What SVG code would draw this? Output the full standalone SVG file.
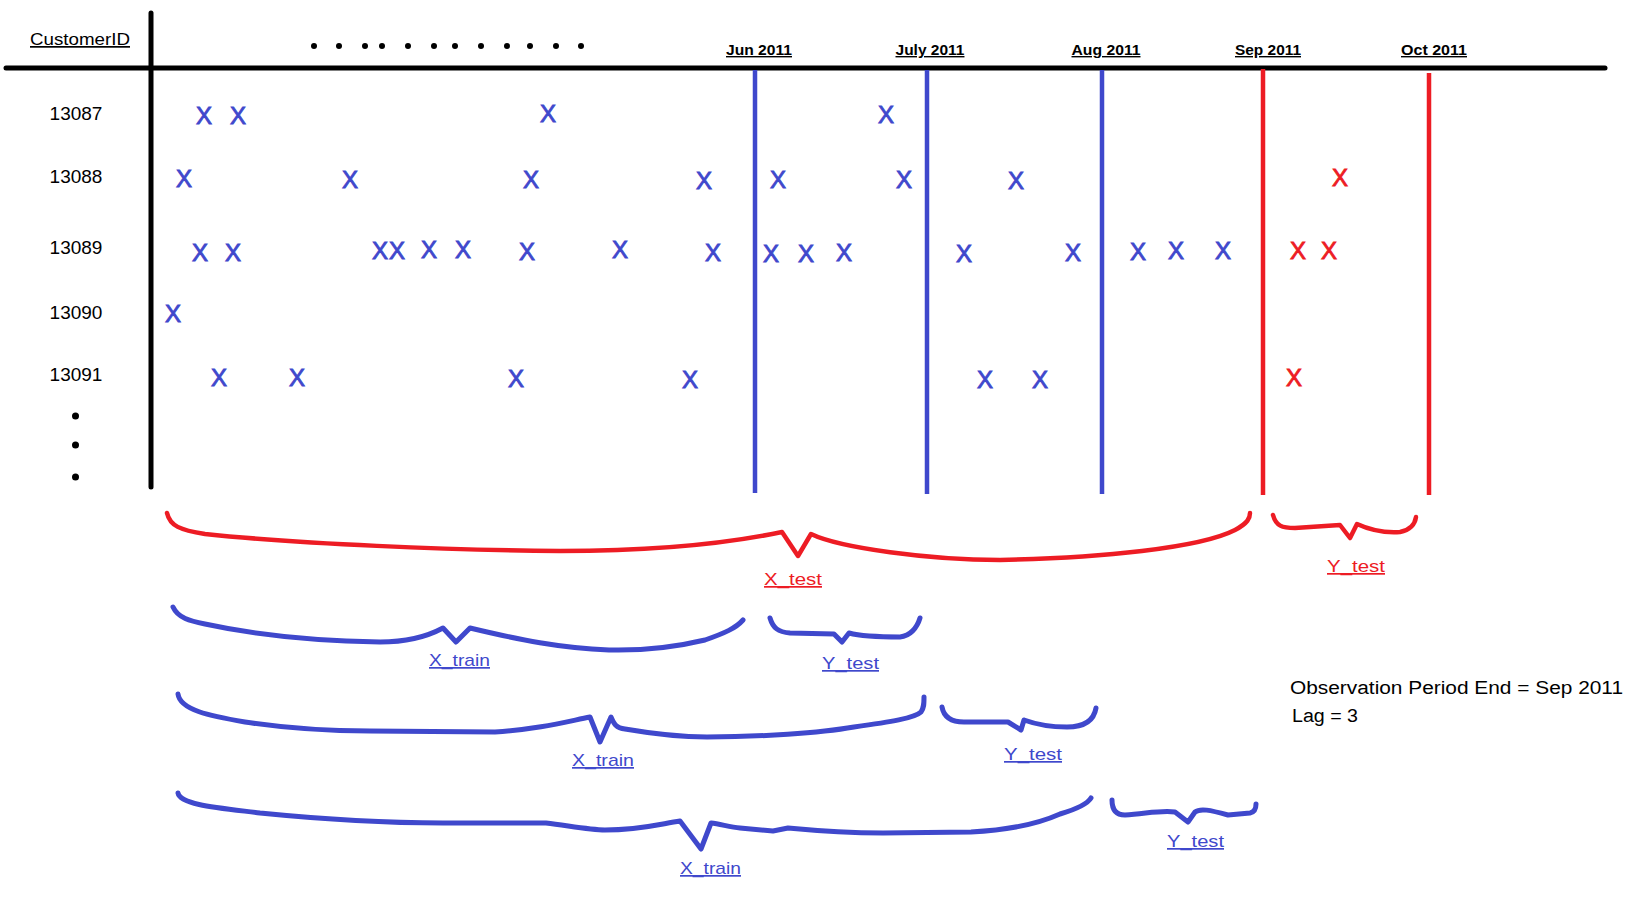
<svg xmlns="http://www.w3.org/2000/svg" width="1642" height="903" viewBox="0 0 1642 903">
<style>
text{font-family:"Liberation Sans",Arial,sans-serif}
.hdr{font-size:14px;font-weight:bold;fill:#000;text-decoration:underline;text-anchor:middle}
.rid{font-size:19px;fill:#000;text-anchor:middle}
.xb{font-size:24px;fill:#3f48cc;stroke:#3f48cc;stroke-width:0.9;text-anchor:middle}
.xr{font-size:24px;fill:#ed1c24;stroke:#ed1c24;stroke-width:0.9;text-anchor:middle}
.blk{stroke:#000;stroke-width:5;stroke-linecap:round;fill:none}
.vb{stroke:#3f48cc;stroke-width:4.5;fill:none}
.vr{stroke:#ed1c24;stroke-width:4.5;fill:none}
.bb{stroke:#3f48cc;stroke-width:5;fill:none;stroke-linecap:round;stroke-linejoin:round}
.br{stroke:#ed1c24;stroke-width:4.5;fill:none;stroke-linecap:round;stroke-linejoin:round}
.lb{font-size:17px;fill:#3f48cc;text-decoration:underline}
.lr{font-size:17px;fill:#ed1c24;text-decoration:underline}
.note{font-size:18px;fill:#000}
</style>
<rect width="1642" height="903" fill="#fff"/>
<g id="axes">
<line class="blk" x1="6" y1="68" x2="1605" y2="68"/>
<line class="blk" x1="151" y1="13" x2="151" y2="487"/>
<text id="customerid" x="30" y="45" font-size="17" textLength="100" lengthAdjust="spacingAndGlyphs" text-decoration="underline">CustomerID</text>
<g id="top-dots" fill="#000">
<circle cx="314" cy="46" r="3"/><circle cx="339" cy="46" r="3"/><circle cx="365" cy="46" r="3"/><circle cx="382" cy="46" r="3"/><circle cx="408" cy="46" r="3"/><circle cx="434" cy="46" r="3"/><circle cx="455" cy="46" r="3"/><circle cx="481" cy="46" r="3"/><circle cx="507" cy="46" r="3"/><circle cx="530" cy="46" r="3"/><circle cx="556" cy="46" r="3"/><circle cx="581" cy="46" r="3"/>
</g>
<g id="side-dots" fill="#000">
<circle cx="75.5" cy="416" r="3.5"/><circle cx="75.5" cy="445" r="3.5"/><circle cx="75.5" cy="477" r="3.5"/>
</g>
</g>
<g id="headers">
<text class="hdr" x="759" y="55" textLength="66" lengthAdjust="spacingAndGlyphs">Jun 2011</text>
<text class="hdr" x="930" y="55" textLength="69" lengthAdjust="spacingAndGlyphs">July 2011</text>
<text class="hdr" x="1106" y="55" textLength="69" lengthAdjust="spacingAndGlyphs">Aug 2011</text>
<text class="hdr" x="1268" y="55" textLength="66" lengthAdjust="spacingAndGlyphs">Sep 2011</text>
<text class="hdr" x="1434" y="55" textLength="66" lengthAdjust="spacingAndGlyphs">Oct 2011</text>
</g>
<g id="dividers">
<line class="vb" x1="755" y1="70" x2="755" y2="493"/>
<line class="vb" x1="927" y1="70" x2="927" y2="494"/>
<line class="vb" x1="1102" y1="70" x2="1102" y2="494"/>
<line class="vr" x1="1263" y1="69" x2="1263" y2="495"/>
<line class="vr" x1="1429" y1="73" x2="1429" y2="495"/>
</g>
<g id="row-13087">
<text class="rid" x="76" y="120">13087</text>
<text class="xb" x="204" y="124">X</text><text class="xb" x="238" y="124">X</text><text class="xb" x="548" y="122">X</text><text class="xb" x="886" y="123">X</text>
</g>
<g id="row-13088">
<text class="rid" x="76" y="183">13088</text>
<text class="xb" x="184" y="187">X</text><text class="xb" x="350" y="188">X</text><text class="xb" x="531" y="188">X</text><text class="xb" x="704" y="189">X</text><text class="xb" x="778" y="188">X</text><text class="xb" x="904" y="188">X</text><text class="xb" x="1016" y="189">X</text>
<text class="xr" x="1340" y="186">X</text>
</g>
<g id="row-13089">
<text class="rid" x="76" y="254">13089</text>
<text class="xb" x="200" y="261">X</text><text class="xb" x="233" y="261">X</text><text class="xb" x="380" y="259">X</text><text class="xb" x="397" y="259">X</text><text class="xb" x="429" y="258">X</text><text class="xb" x="463" y="258">X</text><text class="xb" x="527" y="260">X</text><text class="xb" x="620" y="258">X</text><text class="xb" x="713" y="261">X</text><text class="xb" x="771" y="262">X</text><text class="xb" x="806" y="262">X</text><text class="xb" x="844" y="261">X</text><text class="xb" x="964" y="262">X</text><text class="xb" x="1073" y="261">X</text><text class="xb" x="1138" y="260">X</text><text class="xb" x="1176" y="259">X</text><text class="xb" x="1223" y="259">X</text>
<text class="xr" x="1298" y="259">X</text><text class="xr" x="1329" y="259">X</text>
</g>
<g id="row-13090">
<text class="rid" x="76" y="319">13090</text>
<text class="xb" x="173" y="322">X</text>
</g>
<g id="row-13091">
<text class="rid" x="76" y="381">13091</text>
<text class="xb" x="219" y="386">X</text><text class="xb" x="297" y="386">X</text><text class="xb" x="516" y="387">X</text><text class="xb" x="690" y="388">X</text><text class="xb" x="985" y="388">X</text><text class="xb" x="1040" y="388">X</text>
<text class="xr" x="1294" y="386">X</text>
</g>
<g id="connectors">
<path id="brace-xtest" class="br" d="M167,513 C170,526 180,530 205,534 C300,544 450,550 560,551 C650,551 720,545 782,532 L798,556 L811,534 C840,548 930,560 1000,560 C1100,558 1200,548 1235,530 C1248,523 1250,518 1250,513"/>
<path id="brace-ytest" class="br" d="M1273,515 C1276,526 1282,528 1295,528 L1340,525 L1350,538 L1357,524 C1370,530 1385,533 1400,532 C1410,530 1415,524 1416,517"/>
<path id="brace-xtrain1" class="bb" d="M173,607 C178,618 190,621 205,624 C260,636 320,641 380,642 C410,642 430,635 443,628 L456,642 L470,628 C520,640 560,648 609,650 C650,651 680,646 705,640 C725,633 736,628 743,620"/>
<path id="brace-ytest1" class="bb" d="M770,618 C773,628 778,632 790,633 L834,634 L842,642 L849,633 C860,636 880,637 900,637 C910,636 917,628 920,618"/>
<path id="brace-xtrain2" class="bb" d="M178,694 C180,710 210,716 245,722 C290,729 330,731 370,731 L495,732 C540,729 565,722 590,717 L600,742 L611,717 C614,724 616,728 625,729 C660,735 690,737 707,737 C760,737 820,733 854,727 C890,722 915,718 921,712 C924,708 924,704 924,697"/>
<path id="brace-ytest2" class="bb" d="M942,707 C944,718 952,722 964,722 L1008,722 L1021,730 L1024,720 C1035,724 1050,727 1067,727 C1085,727 1094,720 1096,708"/>
<path id="brace-xtrain3" class="bb" d="M178,793 C180,805 220,808 260,813 C330,820 400,823 443,823 L546,823 C570,826 590,830 605,830 C640,830 660,824 680,821 L701,849 L711,823 C720,824 730,827 740,828 L773,831 L788,828 C830,832 860,833 883,833 L971,832 C1010,830 1040,823 1060,814 C1080,808 1088,803 1091,798"/>
<path id="brace-ytest3" class="bb" d="M1112,800 C1112,812 1118,815 1125,815 C1145,814 1160,810 1175,812 L1188,822 L1195,812 C1200,808 1210,810 1228,815 L1250,813 C1255,812 1256,808 1256,804"/>
</g>
<g id="labels">
<text class="lr" x="764" y="585" textLength="58" lengthAdjust="spacingAndGlyphs">X_test</text>
<text class="lr" x="1327" y="572" textLength="58" lengthAdjust="spacingAndGlyphs">Y_test</text>
<text class="lb" x="429" y="666" textLength="61" lengthAdjust="spacingAndGlyphs">X_train</text>
<text class="lb" x="822" y="669" textLength="57" lengthAdjust="spacingAndGlyphs">Y_test</text>
<text class="lb" x="572" y="766" textLength="62" lengthAdjust="spacingAndGlyphs">X_train</text>
<text class="lb" x="1004" y="760" textLength="58" lengthAdjust="spacingAndGlyphs">Y_test</text>
<text class="lb" x="680" y="874" textLength="61" lengthAdjust="spacingAndGlyphs">X_train</text>
<text class="lb" x="1167" y="847" textLength="57" lengthAdjust="spacingAndGlyphs">Y_test</text>
</g>
<g id="notes">
<text class="note" x="1290" y="694" textLength="333" lengthAdjust="spacingAndGlyphs">Observation Period End = Sep 2011</text>
<text class="note" x="1292" y="722" textLength="66" lengthAdjust="spacingAndGlyphs">Lag = 3</text>
</g>
</svg>
